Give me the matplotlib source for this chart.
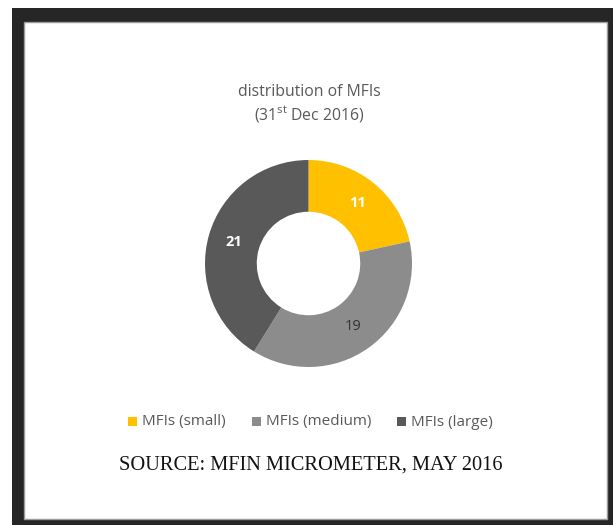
import matplotlib
matplotlib.use("Agg")
import matplotlib.pyplot as plt
from matplotlib.patches import Rectangle
import numpy as np

categories = ["MFIs (small)", "MFIs (medium)", "MFIs (large)"]
values = [11, 19, 21]
colors = ["#FFC000", "#8C8C8C", "#595959"]
label_colors = ["white", "#333333", "white"]
title_line1 = "distribution of MFIs"
source_text = "SOURCE: MFIN MICROMETER, MAY 2016"

W, H = 613, 525
plt.rcParams['mathtext.fontset'] = 'custom'
plt.rcParams['mathtext.rm'] = 'Open Sans'
plt.rcParams['mathtext.it'] = 'Open Sans'
fig = plt.figure(figsize=(W/100, H/100), dpi=100)
fig.patch.set_facecolor("white")

def fx(x): return x / W
def fy(y): return 1 - y / H

# frame
fig.patches.append(Rectangle((fx(12), fy(525)), fx(613-12), (525-8)/H,
                             transform=fig.transFigure, facecolor="#262626", edgecolor="none", zorder=0))
fig.patches.append(Rectangle((fx(24), fy(519)), fx(607-24), (519-22)/H,
                             transform=fig.transFigure, facecolor="white", edgecolor="#9a9a9a", linewidth=1.0, zorder=1))

cx, cy, r = 308.5, 263.5, 103.5
ax = fig.add_axes([fx(cx - r), fy(cy + r), 2*r/W, 2*r/H])
ax.set_zorder(5)
ax.patch.set_alpha(0)
wedges, _ = ax.pie(values, colors=colors, startangle=90, counterclock=False,
                   radius=1.0, wedgeprops=dict(width=0.5, edgecolor="none"))
for v, w, lc in zip(values, wedges, label_colors):
    mid = np.deg2rad((w.theta1 + w.theta2) / 2)
    rr = 0.75
    ax.text(rr*np.cos(mid), rr*np.sin(mid), str(v), ha="center", va="center",
            color=lc, fontsize=10.5, fontweight="bold" if lc == "white" else "normal",
            family="Open Sans")
ax.set_xlim(-1, 1); ax.set_ylim(-1, 1)
ax.set_aspect("equal")
ax.axis("off")

fig.text(fx(309), fy(92), title_line1, ha="center", va="center", color="#595959",
         fontsize=11.3, family="Open Sans", zorder=5)
fig.text(fx(309), fy(114), "(31$^{\\mathrm{st}}$ Dec 2016)", ha="center", va="center", color="#595959",
         fontsize=11.3, family="Open Sans", zorder=5)

# legend
legend_x = [128, 252, 397]
for xpos, lab, c in zip(legend_x, categories, colors):
    fig.patches.append(Rectangle((fx(xpos), fy(426)), fx(9), 9/H, transform=fig.transFigure,
                                 facecolor=c, edgecolor="none", zorder=3))
    fig.text(fx(xpos + 14), fy(422), lab, ha="left", va="center", color="#595959",
             fontsize=11, family="Open Sans", zorder=5)

fig.text(fx(311), fy(465), source_text, ha="center", va="center", color="#111111",
         fontsize=14.7, family="Liberation Serif", zorder=5)

fig.savefig("out.png", dpi=100)
